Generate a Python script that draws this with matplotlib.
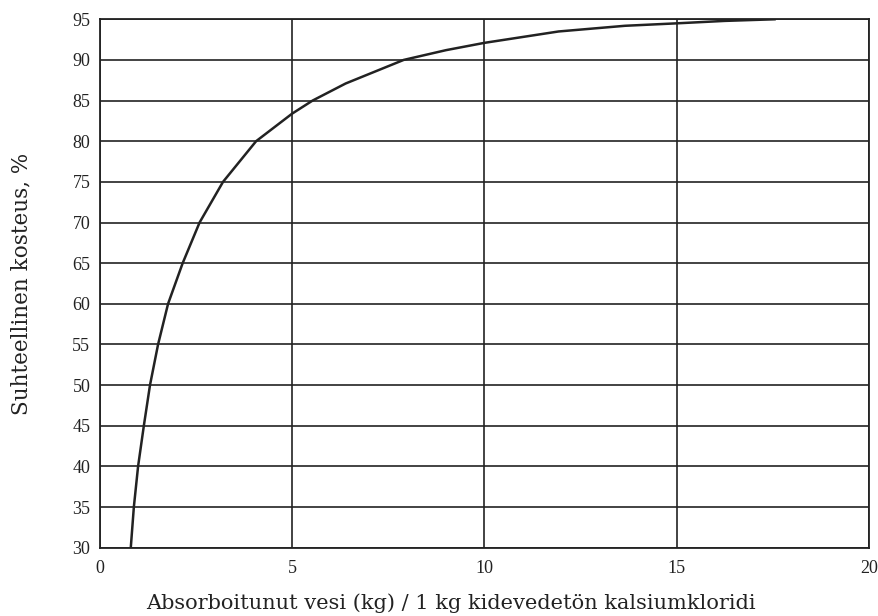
import matplotlib
matplotlib.use("Agg")
import matplotlib.pyplot as plt

# luettu kuvasta
water = [0.80, 0.88, 0.99, 1.14, 1.30, 1.51, 1.77, 2.15, 2.59, 3.20, 4.06,
         5.0, 5.53, 6.39, 7.9, 9.0, 10.0, 11.93, 13.66, 15.0, 16.25, 17.55]
rh = [30, 35, 40, 45, 50, 55, 60, 65, 70, 75, 80,
      83.4, 85, 87.1, 90, 91.2, 92.1, 93.5, 94.2, 94.5, 94.8, 95.0]

xticks = [0, 5, 10, 15, 20]
yticks = list(range(30, 100, 5))

plt.rcParams['font.family'] = ['Liberation Serif', 'DejaVu Serif']

fig = plt.figure(figsize=(8.79, 6.16), dpi=100)
ax = fig.add_axes([0.1138, 0.1109, 0.8745, 0.8578])

ax.plot(water, rh, color='#222222', lw=1.8)

ax.set_xlim(0, 20)
ax.set_ylim(30, 95)
ax.set_xticks(xticks)
ax.set_yticks(yticks)
ax.grid(True, color='#222222', lw=1.2)
ax.tick_params(length=0, labelsize=13, colors='#222222')
ax.tick_params(axis='x', pad=9)
ax.tick_params(axis='y', pad=7)
for s in ax.spines.values():
    s.set_color('#222222')
    s.set_linewidth(1.3)

ax.set_xlabel('Absorboitunut vesi (kg) / 1 kg kidevedetön kalsiumkloridi',
              fontsize=15, family='DejaVu Serif', color='#222222')
ax.set_ylabel('Suhteellinen kosteus, %', fontsize=15.5, family='DejaVu Serif', color='#222222')
ax.xaxis.set_label_coords(0.456, -0.105)
ax.yaxis.set_label_coords(-0.102, 0.5)
ax.xaxis.label.set_va('center')
ax.yaxis.label.set_va('center')

fig.savefig('out.png', dpi=100)
